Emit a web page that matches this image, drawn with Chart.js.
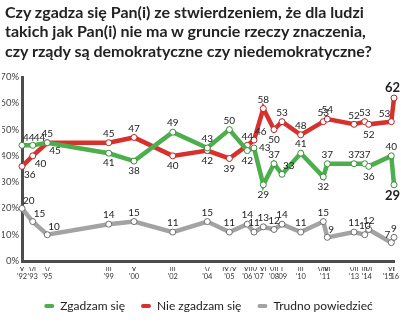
<!DOCTYPE html>
<html lang="pl">
<head>
<meta charset="UTF-8">
<title>Demokracja a ludzie tacy jak ja</title>
<script src="https://cdn.jsdelivr.net/npm/chart.js"></script>
<style>
  body { margin: 0; background: #fff; }
  #wrap { position: relative; width: 401px; height: 326px; }
  #heading {
    position: absolute; left: 5px; top: 2px; margin: 0;
    font: bold 16px/19.3px Lato, sans-serif; color: #222;
  }
</style>
</head>
<body>
<div id="wrap">
  <h1 id="heading">Czy zgadza się Pan(i) ze stwierdzeniem, że dla ludzi<br>takich jak Pan(i) nie ma w gruncie rzeczy znaczenia,<br>czy rządy są demokratyczne czy niedemokratyczne?</h1>
  <canvas id="chart" width="401" height="326"></canvas>
</div>
<script>
// survey dates as decimal years, with the month printed under each one
const surveyDates = [1992.75, 1993.42, 1994.33, 1998.17, 1999.75, 2002.17, 2004.33, 2005.71, 2006.83, 2007.25, 2007.83,
                     2008.5, 2009.0, 2010.17, 2011.58, 2011.83, 2013.5, 2014.17, 2014.42, 2015.83, 2016.0];
const monthLabels = ['X', 'VI', 'V', 'III', 'X', 'III', 'V', 'IX/X', 'XI', 'IV', 'XI',
                     'VII', 'I', 'III', 'VIII', 'XI', 'VII', 'III', 'VI', 'XI', 'I'];

// one year label per year, set under its survey (or between two surveys of the same year)
const yearTickDates = [1992.75, 1993.42, 1994.33, 1998.17, 1999.75, 2002.17, 2004.33, 2005.71, 2006.83, 2007.54,
                       2008.5, 2009.0, 2010.17, 2011.7, 2013.5, 2014.3, 2015.6, 2016.0];
const yearLabels = ["'92", "'93", "'95", "'99", "'00", "'02", "'04", "'05", "'06", "'07",
                    "'08", "'09", "'10", "'11", "'13", "'14", "'15", "'16"];

// answers in %
const agree    = [44, 44, 45, 41, 38, 49, 43, 50, 42, 43, 29, 37, 33, 41, 32, 37, 37, 37, 36, 40, 29];
const disagree = [36, 40, 45, 45, 47, 40, 42, 39, 44, 46, 58, 50, 53, 48, 53, 54, 52, 53, 52, 53, 62];
const unsure   = [20, 15, 10, 14, 15, 11, 15, 11, 14, 11, 13, 12, 14, 11, 15,  9, 11, 10, 12,  7,  9];

const yTicks = [0, 10, 20, 30, 40, 50, 60, 70];

// where each value label sits: a = above, b = below, ra/rb = right above/below, r = right, la = left above
const agreeSpots    = ['ra', 'ra', 'a', 'b', 'b', 'a', 'a', 'a', 'b', 'r', 'b', 'a', 'ra', 'a', 'b', 'a', 'a', 'a', 'b', 'a', 'b'];
const disagreeSpots = ['rb', 'rb', 'rb', 'a', 'a', 'b', 'b', 'b', 'a', 'ra', 'a', 'b', 'a', 'a', 'a', 'a', 'a', 'a', 'b', 'la', 'a'];
const unsureSpots   = ['ra', 'ra', 'ra', 'a', 'a', 'a', 'a', 'a', 'a', 'a', 'a', 'a', 'a', 'a', 'a', 'ra', 'a', 'a', 'a', 'la', 'a'];

const GREEN = '#4cae4c', RED = '#d7312e', GREY = '#a3a3a3', AXIS = '#4d4d4d';
const firstDate = surveyDates[0], lastDate = surveyDates[surveyDates.length - 1];

function points(values) {
  return surveyDates.map((x, i) => ({ x: x, y: values[i] }));
}

function series(label, values, color, edge, spots) {
  return {
    label: label,
    data: points(values),
    borderColor: color,
    backgroundColor: color,
    borderWidth: 4.5,
    pointRadius: 3,
    pointBorderWidth: 1,
    pointBackgroundColor: '#fff',
    pointBorderColor: edge,
    tension: 0,
    clip: false,
    labelSpots: spots
  };
}

// numbers next to every point; the latest survey is printed larger and bold
const valueLabels = {
  id: 'valueLabels',
  afterDatasetsDraw(chart) {
    const ctx = chart.ctx;
    const last = surveyDates.length - 1;
    ctx.save();
    ctx.fillStyle = '#222';
    ctx.textBaseline = 'middle';
    chart.data.datasets.forEach((ds, di) => {
      const meta = chart.getDatasetMeta(di);
      meta.data.forEach((pt, i) => {
        const text = String(ds.data[i].y);
        const bold = i === last && di < 2;
        ctx.font = bold ? 'bold 13px Lato, sans-serif' : '10px Lato, sans-serif';
        const w = ctx.measureText(text).width;
        const spot = ds.labelSpots[i];
        let x = pt.x, y = pt.y, align = 'center';
        if (spot === 'a') { y -= bold ? 10 : 9; }
        else if (spot === 'b') { y += bold ? 11 : 10; }
        else if (spot === 'ra') { x += 1; y -= 8; align = 'left'; }
        else if (spot === 'rb') { x += 2; y += 8; align = 'left'; }
        else if (spot === 'r') { x += 5; align = 'left'; }
        else if (spot === 'la') { x -= 1; y -= 8; align = 'right'; }
        if (align === 'center') x = Math.min(x, chart.width - w / 2 - 1);
        ctx.textAlign = align;
        ctx.fillText(text, x, y);
      });
    });
    ctx.restore();
  }
};

// nudge the legend row a little to the right of centre
const legendNudge = {
  id: 'legendNudge',
  afterLayout(chart) {
    chart.legend.left += 9;
    chart.legend.right += 9;
  }
};

new Chart(document.getElementById('chart'), {
  type: 'line',
  data: {
    datasets: [
      series('Zgadzam się', agree, GREEN, '#3a8f3a', agreeSpots),
      series('Nie zgadzam się', disagree, RED, '#b52522', disagreeSpots),
      series('Trudno powiedzieć', unsure, GREY, '#6e6e6e', unsureSpots)
    ]
  },
  options: {
    responsive: false,
    animation: false,
    layout: { padding: { top: 77, left: 2, right: 4, bottom: 4 } },
    scales: {
      y: {
        min: 0, max: 70,
        afterBuildTicks: s => { s.ticks = yTicks.map(v => ({ value: v })); },
        afterFit: s => { s.width = 20; },
        grid: { display: false, drawTicks: false },
        border: { display: true, color: AXIS, width: 3 },
        ticks: {
          padding: 3, color: '#444',
          font: { family: 'Lato', size: 9.5 },
          callback: v => v + '%'
        }
      },
      x: {
        type: 'linear', position: 'bottom',
        min: firstDate, max: lastDate,
        afterBuildTicks: s => { s.ticks = surveyDates.map(v => ({ value: v })); },
        afterFit: s => { s.height = 10; },
        grid: { display: false, drawTicks: false },
        border: { display: true, color: AXIS, width: 3 },
        ticks: {
          autoSkip: false, maxRotation: 0, minRotation: 0, padding: 6,
          color: '#333', font: { family: 'Lato', size: 7 },
          callback: (v, i) => monthLabels[i]
        }
      },
      years: {
        type: 'linear', position: 'bottom',
        min: firstDate, max: lastDate,
        afterBuildTicks: s => { s.ticks = yearTickDates.map(v => ({ value: v })); },
        afterFit: s => { s.height = 13; },
        grid: { display: false, drawTicks: false },
        border: { display: false },
        ticks: {
          autoSkip: false, maxRotation: 0, minRotation: 0, padding: 1.5,
          color: '#333', font: { family: 'Lato', size: 7.5 },
          callback: (v, i) => yearLabels[i]
        }
      }
    },
    plugins: {
      title: { display: false },
      tooltip: { enabled: false },
      legend: {
        position: 'bottom',
        labels: {
          color: '#222',
          font: { family: 'Lato', size: 12 },
          boxWidth: 10, boxHeight: 4,
          useBorderRadius: true, borderRadius: 2,
          padding: 16,
          generateLabels(chart) {
            return Chart.defaults.plugins.legend.labels.generateLabels(chart)
              .map(item => Object.assign(item, { lineWidth: 0, fillStyle: item.strokeStyle }));
          }
        }
      }
    }
  },
  plugins: [valueLabels, legendNudge]
});
</script>
</body>
</html>
